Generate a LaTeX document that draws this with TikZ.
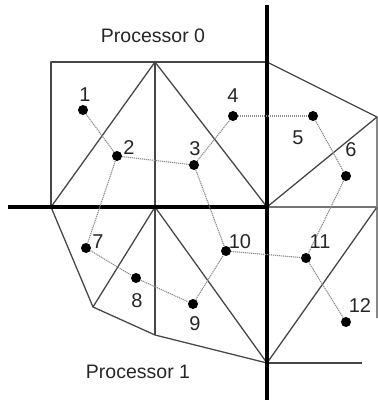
\documentclass[tikz,border=0pt]{standalone}
\usepackage{fontspec}
\setmainfont{Liberation Sans}
\begin{document}
\begin{tikzpicture}[x=1pt,y=-1pt,
  mesh/.style={draw=black!72,line width=1.3pt,line join=round},
  cut/.style={draw=black,line width=3.6pt},
  thin/.style={draw=black!55,line width=1.3pt},
  link/.style={draw=black!45,line width=1.1pt,dash pattern=on 1.2pt off 0.8pt},
  dot/.style={circle,fill=black,inner sep=0pt,minimum size=10pt},
  num/.style={inner sep=0pt,font=\fontsize{20}{22}\selectfont,text=black!85},
  title/.style={inner sep=0pt,font=\fontsize{19.5}{22}\selectfont,text=black!85}]
\useasboundingbox (0,0) rectangle (378,400);
% mesh corners
\coordinate (tl) at (51,62);
\coordinate (tm) at (155,62);
\coordinate (tr) at (267,62);
\coordinate (ml) at (51,207);
\coordinate (mm) at (155,207);
\coordinate (mc) at (267,207);
\coordinate (rt) at (377,117);
\coordinate (rb) at (377,318);
\coordinate (rm) at (377,207);
\coordinate (bl) at (93,307);
\coordinate (bm) at (155,335);
\coordinate (bc) at (267,363);
\coordinate (br) at (362,363);
% mesh
\draw[mesh] (ml) -- (tl) -- (tr);
\draw[mesh] (tm) -- (bm);
\draw[mesh] (ml) -- (tm) -- (mc);
\draw[mesh] (tr) -- (rt) -- (rb);
\draw[mesh] (mc) -- (rt);
\draw[mesh] (ml) -- (bl) -- (bm) -- (bc);
\draw[mesh] (bl) -- (mm) -- (bc);
\draw[mesh] (bc) -- (rm);
\draw[mesh] (bc) -- (br);
\draw[thin] (mc) -- (rm);
% cut lines
\draw[cut] (8,207) -- (mc);
\draw[cut] (267,5) -- (267,400);
% vertices
\node[dot] (n1) at (83,110) {};
\node[dot] (n2) at (117,156) {};
\node[dot] (n3) at (194,165) {};
\node[dot] (n4) at (233,116) {};
\node[dot] (n5) at (313,116) {};
\node[dot] (n6) at (346,176) {};
\node[dot] (n7) at (86,248) {};
\node[dot] (n8) at (136,278) {};
\node[dot] (n9) at (193,304) {};
\node[dot] (n10) at (226,251) {};
\node[dot] (n11) at (306,258) {};
\node[dot] (n12) at (346,322) {};
% dual graph edges
\begin{scope}[on background layer/.style={}]
\draw[link] (n1) -- (n2);
\draw[link] (n2) -- (n3);
\draw[link] (n2) -- (n7);
\draw[link] (n3) -- (n4);
\draw[link] (n3) -- (n10);
\draw[link] (n4) -- (n5);
\draw[link] (n5) -- (n6);
\draw[link] (n6) -- (n11);
\draw[link] (n7) -- (n8);
\draw[link] (n8) -- (n9);
\draw[link] (n9) -- (n10);
\draw[link] (n10) -- (n11);
\draw[link] (n11) -- (n12);
\end{scope}
% labels
\node[num] (l1) at (85,95) {1};
\node[num] (l2) at (129,148) {2};
\node[num] (l3) at (195,149) {3};
\node[num] (l4) at (233,96) {4};
\node[num] (l5) at (298,138) {5};
\node[num] (l6) at (351,150) {6};
\node[num] (l7) at (98,242) {7};
\node[num] (l8) at (137,301) {8};
\node[num] (l9) at (195,324) {9};
\node[num] (l10) at (240,242) {10};
\node[num] (l11) at (320,242) {11};
\node[num] (l12) at (360,306) {12};
\node[title] (p0) at (153,36) {Processor 0};
\node[title] (p1) at (138,372) {Processor 1};
\end{tikzpicture}
\end{document}
